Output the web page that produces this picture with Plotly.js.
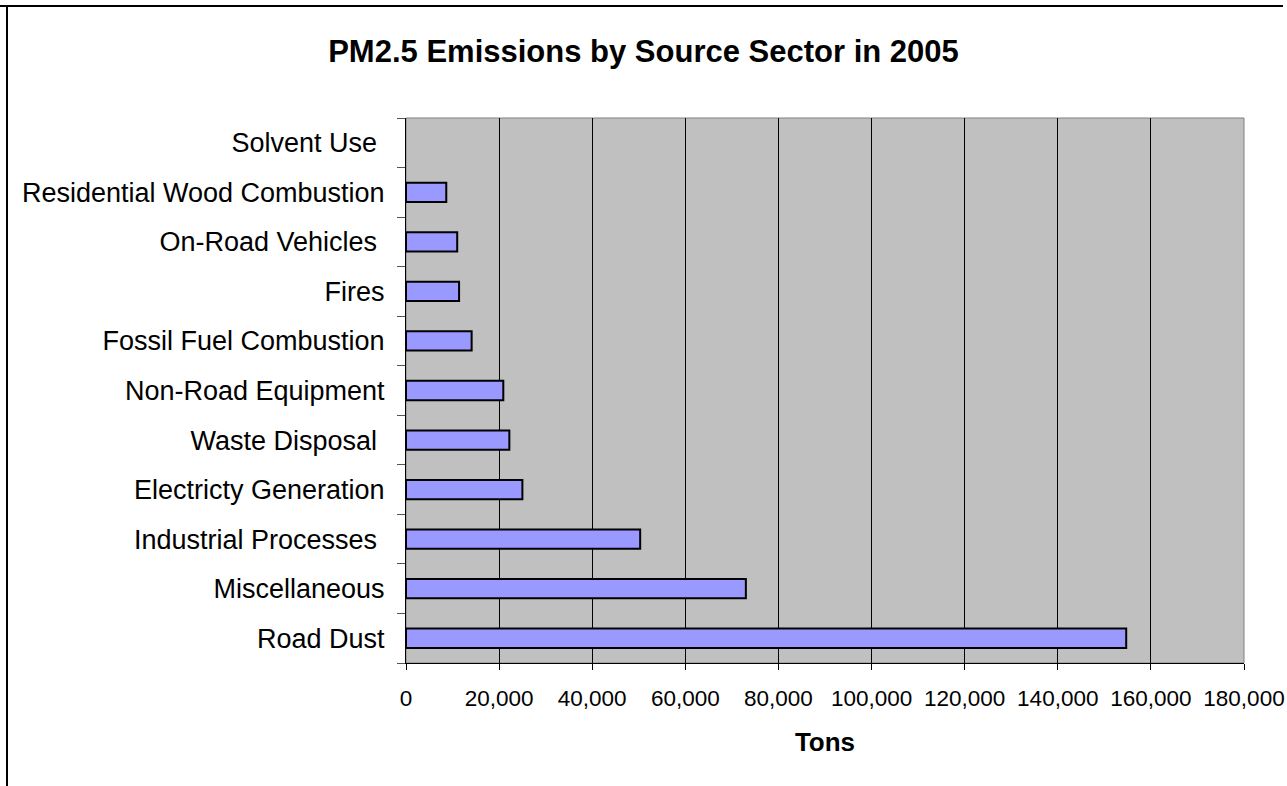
<!DOCTYPE html>
<html>
<head>
<meta charset="utf-8">
<script src="https://cdn.plot.ly/plotly-3.0.1.min.js"></script>
<style>
  html, body { margin: 0; padding: 0; background: #ffffff; }
  #wrap { position: relative; width: 1287px; height: 786px; overflow: hidden; }
  #chart { position: absolute; left: 0; top: 0; width: 1287px; height: 786px; }
  .frameTop { position: absolute; left: 0; top: 5px; width: 1283px; height: 2px; background: #000; }
  .frameLeft { position: absolute; left: 6px; top: 5px; width: 2px; height: 781px; background: #000; }
</style>
</head>
<body>
<div id="wrap">
  <div id="chart"></div>
  <div class="frameTop"></div>
  <div class="frameLeft"></div>
</div>
<script>
// Categories listed bottom-to-top (Plotly draws the first category at the bottom)
const categories = [
  "Road Dust",
  "Miscellaneous",
  "Industrial Processes\u00a0",
  "Electricty Generation",
  "Waste Disposal\u00a0",
  "Non-Road Equipment",
  "Fossil Fuel Combustion",
  "Fires",
  "On-Road Vehicles\u00a0",
  "Residential Wood Combustion",
  "Solvent Use\u00a0"
];
const tons = [154700, 73000, 50300, 25000, 22200, 20900, 14100, 11400, 11000, 8650, 0];
const xTickValues = [0, 20000, 40000, 60000, 80000, 100000, 120000, 140000, 160000, 180000];
const xTickLabels = ["0", "20,000", "40,000", "60,000", "80,000", "100,000", "120,000", "140,000", "160,000", "180,000"];
const chartTitle = "PM2.5 Emissions by Source Sector in 2005";
const xTitle = "Tons";

const FONT = "Liberation Sans, Arial, sans-serif";

const trace = {
  type: "bar",
  orientation: "h",
  x: tons,
  y: categories,
  marker: {
    color: "#9999ff",
    line: { color: "#000000", width: tons.map(v => (v > 0 ? 2 : 0)) }
  },
  hoverinfo: "skip"
};

const layout = {
  width: 1287,
  height: 786,
  margin: { l: 406, r: 43, t: 118, b: 123, pad: 0 },
  paper_bgcolor: "rgba(0,0,0,0)",
  plot_bgcolor: "#c0c0c0",
  showlegend: false,
  bargap: 0.61,
  title: {
    text: "<b>" + chartTitle + "</b>",
    font: { family: FONT, size: 31, color: "#000000" },
    x: 0.5, xref: "container", xanchor: "center",
    y: 1 - 51 / 786, yref: "container", yanchor: "middle"
  },
  xaxis: {
    range: [0, 180000],
    tickmode: "array",
    tickvals: xTickValues,
    ticktext: xTickLabels,
    showgrid: true,
    gridcolor: "#000000",
    gridwidth: 1,
    zeroline: false,
    showline: true,
    linecolor: "#000000",
    linewidth: 1,
    ticks: "outside",
    ticklen: 6,
    tickcolor: "#000000",
    ticklabelstandoff: 9,
    tickfont: { family: FONT, size: 22.5, color: "#000000" },
    title: {
      text: "<b>" + xTitle + "</b>",
      font: { family: FONT, size: 26, color: "#000000" },
      standoff: 22
    },
    fixedrange: true
  },
  yaxis: {
    type: "category",
    categoryorder: "array",
    categoryarray: categories,
    showgrid: false,
    zeroline: false,
    showline: true,
    linecolor: "#000000",
    linewidth: 1,
    ticks: "outside",
    tickson: "boundaries",
    ticklen: 8,
    tickcolor: "#555555",
    ticklabelstandoff: 15,
    tickfont: { family: FONT, size: 27, color: "#000000" },
    fixedrange: true
  },
  shapes: [
    {
      type: "rect", xref: "paper", yref: "paper",
      x0: 0, x1: 1, y0: 0, y1: 1,
      line: { color: "#808080", width: 1 },
      layer: "below"
    }
  ]
};

Plotly.newPlot("chart", [trace], layout, { staticPlot: true, displayModeBar: false });
</script>
</body>
</html>
